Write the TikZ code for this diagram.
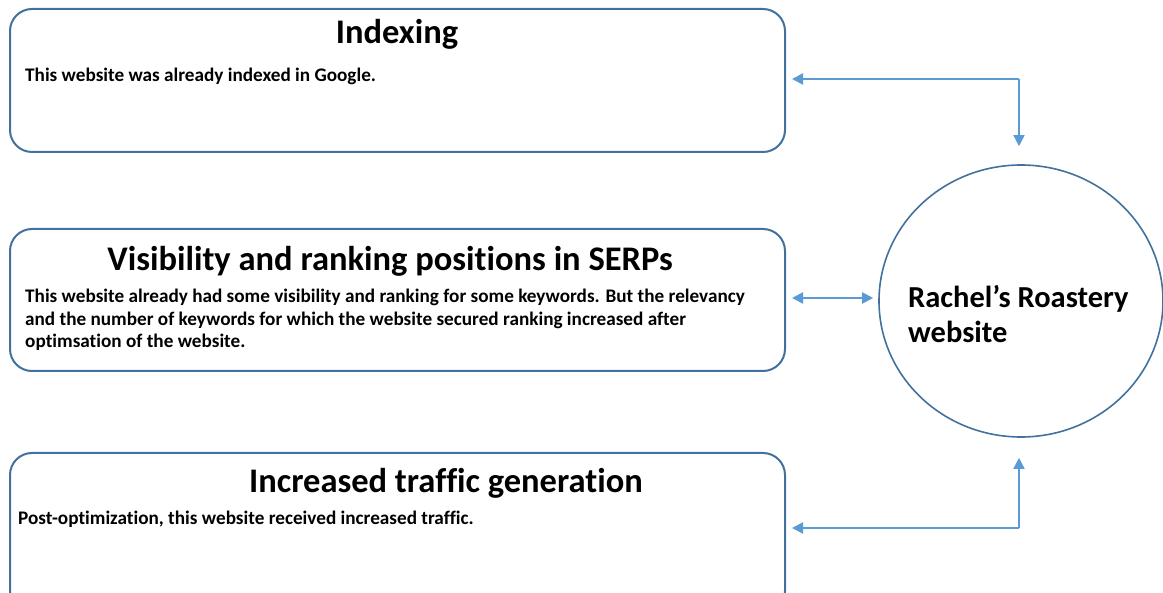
\documentclass[tikz,border=0pt]{standalone}
\usepackage{fontspec}
\setmainfont[Ligatures=NoCommon]{Carlito}
\usetikzlibrary{shapes.geometric,arrows.meta}
\definecolor{boxline}{HTML}{41719C}
\definecolor{arrowline}{HTML}{5B9BD5}

\begin{document}
\begin{tikzpicture}
[
	x=1pt, y=-1pt,
	panel/.style={draw=boxline,line width=2pt,rounded corners=22pt,minimum width=775pt,inner sep=0pt},
	heading/.style={anchor=base,inner sep=0pt,font=\fontsize{34.5}{37}\selectfont\bfseries},
	body/.style={anchor=north west,align=left,inner sep=0pt,font=\fontsize{19.2}{22.6}\selectfont\bfseries},
	site/.style={ellipse,draw=boxline,line width=1.6pt,minimum width=284pt,minimum height=272pt,inner sep=0pt},
	sitetext/.style={anchor=west,align=left,inner sep=0pt,font=\fontsize{30.5}{35}\selectfont\bfseries},
	link/.style={draw=arrowline,line width=2pt,-{Triangle[length=11pt,width=11pt]}}
]
	\useasboundingbox (0,0) rectangle (1163,593);
	\clip (0,0) rectangle (1163,593);

	% boxes
	\node[panel,minimum height=143pt] (idx) at (397.5,80.5) {};
	\node[heading] (idxhead) at (397,44) {Indexing};
	\node[body] (idxtext) at (25,68) {This website was already indexed in Google.};

	\node[panel,minimum height=142pt] (vis) at (397.5,300) {};
	\node[heading] (vishead) at (390,270.5) {Visibility and ranking positions in SERPs};
	\node[body] (vistext) at (25,289) {This website already had some visibility and ranking for some keywords. But the relevancy\\and the number of keywords for which the website secured ranking increased after\\optimsation of the website.};

	\node[panel,minimum height=160pt] (traffic) at (397.5,533) {};
	\node[heading] (traffichead) at (446,492.5) {Increased traffic generation};
	\node[body] (traffictext) at (18,511) {Post-optimization, this website received increased traffic.};

	% website
	\node[site] (web) at (1021,301) {};
	\node[sitetext] (webname) at (908,314) {Rachel’s Roastery\\website};

	% arrows
	\coordinate (topturn) at (1019,79);
	\coordinate (botturn) at (1019,528);
	\draw[link,shorten >=6pt] (topturn) -- (idx.east |- topturn);
	\draw[link,line width=1.5pt,shorten >=18pt] (topturn) -- (topturn |- web.north);
	\draw[link,{Triangle[length=11pt,width=11pt]}-{Triangle[length=11pt,width=11pt]},shorten <=6pt,shorten >=5pt] (vis.east |- 0,298) -- (web.west |- 0,298);
	\draw[link,shorten >=6pt] (botturn) -- (traffic.east |- botturn);
	\draw[link,line width=1.5pt,shorten >=20pt] (botturn) -- (botturn |- web.south);

\end{tikzpicture}
\end{document}
